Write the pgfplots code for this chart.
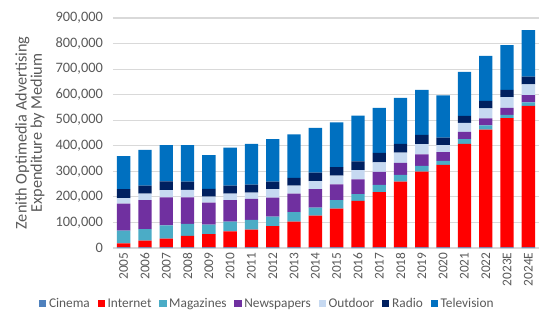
\documentclass[border=0pt]{standalone}
\usepackage{pgfplots}
\pgfplotsset{compat=1.18}
\usepackage{pgfplotstable}
\usepackage{fontspec}
\setmainfont{Carlito}
\definecolor{txt}{HTML}{595959}
\definecolor{cCinema}{HTML}{4F81BD}
\definecolor{cInternet}{HTML}{FF0000}
\definecolor{cMag}{HTML}{4BACC6}
\definecolor{cNews}{HTML}{7030A0}
\definecolor{cOut}{HTML}{C6D9F1}
\definecolor{cRadio}{HTML}{002060}
\definecolor{cTV}{HTML}{0070C0}
\definecolor{gridc}{HTML}{D9D9D9}
\pgfplotstableread{
x cinema internet magazines newspapers outdoor radio tv
0  2500 15500 50000 106000 21000 35000 130000
1  2500 26500 45000 113000 26000 31000 140000
2  2500 34500 52000 109000 28000 35000 142000
3  2500 44500 47000 104000 29000 33000 143000
4  2500 51500 37000 87000 23000 30000 132000
5  2500 62500 38000 84000 26000 31000 149000
6  2500 69500 38000 82000 25000 31000 159000
7  2500 83500 37000 74000 33000 30000 166000
8  2500 100500 37000 73000 31000 30000 171000
9  2500 124500 31000 72000 32000 33000 175000
10 2500 151500 33000 62000 34000 33000 176000
11 2500 181500 27000 58000 36000 34000 179000
12 2500 216500 28000 51000 37000 37000 176000
13 2500 257500 26000 47000 40000 34000 180000
14 2500 296500 22000 45000 40000 37000 176000
15 2500 322500 16000 34000 28000 29000 165000
16 2500 404500 19000 28000 36000 27000 172000
17 2500 460500 17000 27000 39000 30000 176000
18 2500 505500 13000 27000 42000 29000 175000
19 2500 553500 14000 28000 42000 31000 182000
}\datatable
\begin{document}
\begin{tikzpicture}
\begin{axis}[
  scale only axis,
  width=319.5pt, height=172.5pt,
  ybar stacked, bar width=10pt,
  xmin=-0.5, xmax=19.5,
  ymin=0, ymax=900000,
  ytick={0,100000,...,900000},
  scaled y ticks=false,
  /pgf/number format/.cd, fixed, 1000 sep={,}, assume math mode=true,
  /pgfplots/.cd,
  xtick=data,
  xticklabels={2005,2006,2007,2008,2009,2010,2011,2012,2013,2014,2015,2016,2017,2018,2019,2020,2021,2022,2023E,2024E},
  x tick label style={rotate=90, anchor=east, font=\fontsize{10}{12}\selectfont, text=txt},
  y tick label style={font=\fontsize{10.8}{12}\selectfont, text=txt, xshift=-4pt},
  ymajorgrids, grid style={gridc, line width=0.8pt},
  axis line style={draw=none},
  major tick style={draw=none},
  axis x line*=bottom,
  x axis line style={draw=gridc, line width=0.8pt},
  xtick pos=bottom,
  ylabel={Zenith Optimedia Advertising\\Expenditure by Medium},
  ylabel style={at={(axis description cs:-0.195,0.5)}, anchor=center, rotate=0, align=center, text=txt, font=\fontsize{12.2}{10.5}\selectfont},
  legend columns=-1,
  legend style={at={(0.363,-0.245)}, anchor=center, draw=none, fill=none, font=\fontsize{10}{12}\selectfont, text=txt,
    /tikz/every even column/.append style={column sep=3.8pt}},
  legend image code/.code={\fill[#1] (0pt,-2.2pt) rectangle (5.5pt,3.3pt);},
]
\addplot[fill=cCinema, draw=none] table[x=x, y=cinema] {\datatable};
\addplot[fill=cInternet, draw=none] table[x=x, y=internet] {\datatable};
\addplot[fill=cMag, draw=none] table[x=x, y=magazines] {\datatable};
\addplot[fill=cNews, draw=none] table[x=x, y=newspapers] {\datatable};
\addplot[fill=cOut, draw=none] table[x=x, y=outdoor] {\datatable};
\addplot[fill=cRadio, draw=none] table[x=x, y=radio] {\datatable};
\addplot[fill=cTV, draw=none] table[x=x, y=tv] {\datatable};
\legend{Cinema,Internet,Magazines,Newspapers,Outdoor,Radio,Television}
\end{axis}
\path[use as bounding box] (-84.75pt,-63.75pt) rectangle (328.5pt,186pt);
\end{tikzpicture}
\end{document}
